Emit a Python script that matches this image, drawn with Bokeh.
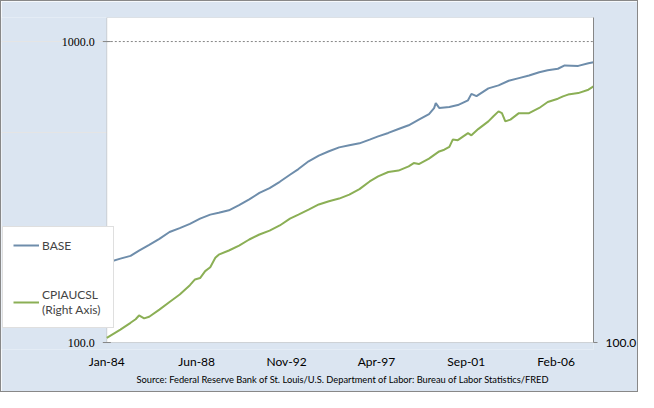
from bokeh.plotting import figure
from bokeh.models import (Range1d, LogAxis, LogScale, FixedTicker, NumeralTickFormatter,
                          Legend, LegendItem, BoxAnnotation, Title)
from bokeh.embed import file_html
from bokeh.resources import INLINE

# months since Jan-84 (0 = Jan-84, 287 = Dec-07)
base_month = [0, 8, 14, 19, 25, 31, 37, 43, 49, 55,
              61, 66, 72, 78, 84, 90, 96, 102, 108, 113,
              119, 125, 131, 137, 143, 149, 155, 160, 166, 172,
              178, 184, 190, 193, 194, 196, 202, 207, 213, 215,
              218, 225, 231, 237, 243, 249, 255, 260, 266, 270,
              278, 284, 287]
base_vals = [184, 190, 194, 202, 211, 221, 233, 240, 248, 258,
             266, 270, 275, 286, 299, 314, 326, 342, 361, 377,
             400, 418, 432, 445, 452, 459, 472, 484, 497, 512,
             527, 550, 574, 601, 624, 602, 606, 615, 638, 670,
             659, 699, 715, 741, 756, 771, 791, 803, 812, 833,
             830, 847, 854]

cpi_month = [0, 8, 14, 17, 19, 22, 25, 31, 37, 43,
             49, 52, 55, 58, 61, 64, 66, 72, 78, 84,
             90, 96, 102, 108, 113, 119, 125, 131, 137, 143,
             149, 155, 160, 166, 172, 178, 181, 184, 190, 196,
             199, 202, 204, 207, 213, 215, 219, 225, 228, 231,
             233, 235, 238, 243, 249, 255, 260, 266, 269, 272,
             278, 284, 287]
cpi_vals = [101.4, 103.9, 106.0, 107.1, 108.3, 107.4, 107.9, 110.2, 112.7, 115.2,
            118.4, 120.4, 120.9, 123.4, 124.8, 128.3, 129.5, 131.1, 133.0, 135.4,
            137.4, 139.0, 141.1, 144.0, 145.7, 147.8, 150.1, 151.5, 152.7, 154.5,
            157.0, 160.6, 163.0, 165.1, 165.8, 167.9, 169.5, 169.0, 171.7, 175.4,
            176.3, 177.8, 181.6, 181.3, 185.1, 183.9, 187.3, 191.6, 194.5, 197.3,
            196.3, 191.6, 192.6, 196.3, 196.3, 199.3, 202.8, 204.8, 206.2, 207.3,
            208.2, 210.3, 212.3]

tick_months = [0, 53, 106, 159, 212, 265]
tick_labels = ["Jan-84", "Jun-88", "Nov-92", "Apr-97", "Sep-01", "Feb-06"]
left_ticks = [100, 1000]
grid_ticks = [1000]
right_ticks = [100]

FONT = "Lato"
GRAY = "#868686"
BG = "#DBE5F1"
first_month, last_month = 0, 287
base_lo, base_hi = 100, 1202
cpi_lo, cpi_hi = 100, 260

# the frame also covers the legend strip on the left and a few pixels below the
# plot area, so the left tick labels are not clipped; the plot area starts at month 0
p = figure(width=638, height=392, x_range=Range1d(-62.1, last_month), y_range=Range1d(94.8, base_hi),
           y_axis_type="log", y_axis_location=None, output_backend="svg", toolbar_location=None,
           min_border_left=0, min_border_right=41, min_border_top=16, min_border_bottom=44,
           background_fill_color=BG, border_fill_color=BG, outline_line_color=None)
p.styles = {"border": "1px solid #888888"}

# white plot area; its gray bottom edge is the x axis line
p.add_layout(BoxAnnotation(left=first_month, right=last_month, bottom=base_lo,
                           fill_color="white", fill_alpha=1,
                           line_color=GRAY, line_width=1, level="underlay"))

# dotted gridline at 1000
p.segment(x0=[first_month] * len(grid_ticks), x1=[last_month] * len(grid_ticks),
          y0=grid_ticks, y1=grid_ticks, line_color=GRAY, line_dash="2 2", line_width=1)

# left axis ticks and labels
p.scatter(x=[first_month] * len(left_ticks), y=left_ticks, marker="dash", size=8,
          line_color=GRAY, line_width=1)
p.text(x=[first_month] * len(left_ticks), y=left_ticks, text=[f"{t:.1f}" for t in left_ticks],
       x_offset=-12, text_align="right", text_baseline="middle",
       text_font=FONT, text_font_size="12px", text_color="black")

# right axis for CPI
p.extra_y_ranges = {"cpi": Range1d(98.0, cpi_hi)}
p.extra_y_scales = {"cpi": LogScale()}
rax = LogAxis(y_range_name="cpi", ticker=FixedTicker(ticks=right_ticks),
              formatter=NumeralTickFormatter(format="0.0"), bounds=(cpi_lo, cpi_hi))
rax.axis_line_color = GRAY
rax.major_tick_line_color = GRAY
rax.major_tick_in = 0
rax.major_tick_out = 4
rax.minor_tick_line_color = None
rax.major_label_standoff = 8
rax.major_label_text_font = FONT
rax.major_label_text_font_size = "12px"
rax.major_label_text_color = "black"
p.add_layout(rax, "right")

# x axis labels (its line is the bottom edge of the plot area)
xax = p.xaxis[0]
xax.bounds = (first_month, last_month)
xax.ticker = FixedTicker(ticks=tick_months)
xax.major_label_overrides = dict(zip(tick_months, tick_labels))
xax.axis_line_color = None
xax.major_tick_line_color = None
xax.minor_tick_line_color = None
xax.major_tick_in = 0
xax.major_tick_out = 0
xax.major_label_standoff = 4
xax.major_label_text_font = FONT
xax.major_label_text_font_size = "12px"
xax.major_label_text_color = "black"
p.xgrid.grid_line_color = None

src = Title(text="Source: Federal Reserve Bank of St. Louis/U.S. Department of Labor: "
                 "Bureau of Labor Statistics/FRED",
            align="left", offset=135, standoff=0,
            text_font=FONT, text_font_size="9.3px", text_font_style="normal", text_color="black")
p.add_layout(src, "below")

base_line = p.line(base_month, base_vals, line_color="#6E8DAB", line_width=2)
cpi_line = p.line(cpi_month, cpi_vals, line_color="#8BAF55", line_width=2, y_range_name="cpi")

legend = Legend(items=[LegendItem(label="BASE", renderers=[base_line]),
                       LegendItem(label="CPIAUCSL\n(Right Axis)", renderers=[cpi_line])],
                location=(1, 21))
legend.border_line_color = "#BFBFBF"
legend.background_fill_color = "white"
legend.background_fill_alpha = 1
legend.label_text_font = FONT
legend.label_text_font_size = "12px"
legend.glyph_width = 26
legend.glyph_height = 16
legend.label_height = 16
legend.label_width = 61
legend.label_standoff = 3
legend.spacing = 34
legend.padding = 10
legend.margin = 0
p.add_layout(legend)

open("out.html", "w").write(file_html(p, INLINE))
